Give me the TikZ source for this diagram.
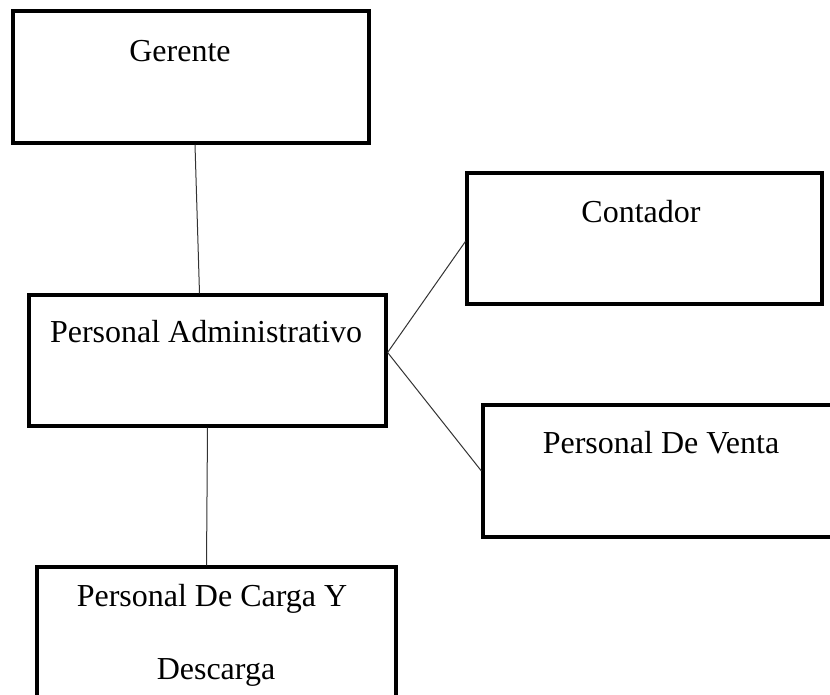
\documentclass[tikz,border=0pt]{standalone}
\usepackage{fontspec}
\setmainfont{Liberation Serif}

\tikzset{
  puesto/.style={draw, line width=3.2pt, rectangle, inner sep=0pt},
  rotulo/.style={anchor=base, inner sep=0pt, font=\fontsize{32}{38}\selectfont},
  enlace/.style={draw=black!80, line width=1pt}
}

\begin{document}
\begin{tikzpicture}[x=1pt,y=1pt]
  \useasboundingbox[fill=white] (0,0) rectangle (830,695);
  % cajas
  \node[puesto, minimum width=356, minimum height=132] (ger) at (191,618) {};
  \node[puesto, minimum width=357, minimum height=131] (adm) at (207.5,334.5) {};
  \node[puesto, minimum width=355, minimum height=131] (ctr) at (644.5,456.5) {};
  \node[puesto, minimum width=360, minimum height=132] (vta) at (663,224) {};
  \node[puesto, minimum width=359, minimum height=145] (car) at (216.5,55.5) {};
  % textos
  \node[rotulo] (tger) at (180,633) {Gerente};
  \node[rotulo] (tadm) at (206,352) {Personal Administrativo};
  \node[rotulo] (tctr) at (641,472) {Contador};
  \node[rotulo] (tvta) at (661,241) {Personal De Venta};
  \node[rotulo] (tcar) at (212,88) {Personal De Carga Y};
  \node[rotulo] (tdes) at (216,15) {Descarga};
  % lineas
  \draw[enlace] ([xshift=4pt]ger.south) -- ([xshift=-8pt]adm.north);
  \draw[enlace] ([yshift=8pt]adm.east) -- ([yshift=-3pt]ctr.west);
  \draw[enlace] ([yshift=8pt]adm.east) -- (vta.west);
  \draw[enlace] (adm.south) -- ([xshift=-10pt]car.north);
\end{tikzpicture}
\end{document}
